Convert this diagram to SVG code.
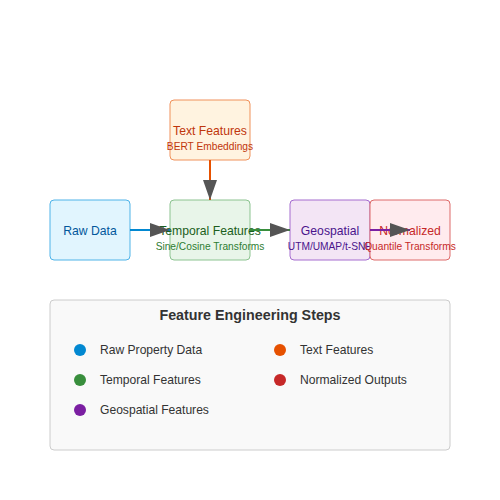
<svg xmlns="http://www.w3.org/2000/svg" width="500" height="500" viewBox="0 0 500 500">
<style>
text{font-family:"Liberation Sans",Arial,sans-serif;}
.t{font-size:12.2px;text-anchor:middle;}
.s{font-size:10.2px;text-anchor:middle;}
.box{stroke-width:1;}
.lg{font-size:12.1px;fill:#333;}
.con{stroke-width:2;fill:none;}
</style>
<defs>
<marker id="arr" markerUnits="userSpaceOnUse" markerWidth="20" markerHeight="14" refX="20" refY="7" orient="auto">
<path d="M0,0 L20,7 L0,14 z" fill="#555"/>
</marker>
</defs>
<rect width="500" height="500" fill="#ffffff"/>
<g id="raw">
<rect class="box" x="50" y="200" width="80" height="60" rx="4" fill="#e1f5fe" stroke="#4fb3e8"/>
<text class="t" x="90" y="235" fill="#01579b">Raw Data</text>
</g>
<g id="text">
<rect class="box" x="170" y="100" width="80" height="60" rx="4" fill="#fff3e0" stroke="#f0915a"/>
<text class="t" x="210" y="135" fill="#bf360c">Text Features</text>
<text class="s" x="210" y="150" fill="#bf360c">BERT Embeddings</text>
</g>
<g id="temporal">
<rect class="box" x="170" y="200" width="80" height="60" rx="4" fill="#e8f5e9" stroke="#8cc390"/>
<text class="t" x="210" y="235" fill="#1b5e20">Temporal Features</text>
<text class="s" x="210" y="250" fill="#2e7d32">Sine/Cosine Transforms</text>
</g>
<g id="geo">
<rect class="box" x="290" y="200" width="80" height="60" rx="4" fill="#f3e5f5" stroke="#a56ccf"/>
<text class="t" x="330" y="235" fill="#4a148c">Geospatial</text>
<text class="s" x="330" y="250" fill="#4a148c">UTM/UMAP/t-SNE</text>
</g>
<g id="norm">
<rect class="box" x="370" y="200" width="80" height="60" rx="4" fill="#ffebee" stroke="#dd6a6a"/>
<text class="t" x="410" y="235" fill="#c62828">Normalized</text>
<text class="s" x="410" y="250" fill="#c62828">Quantile Transforms</text>
</g>
<g id="connectors">
<line class="con" x1="130" y1="230" x2="170" y2="230" stroke="#0288d1" marker-end="url(#arr)"/>
<line class="con" x1="210" y1="160" x2="210" y2="200" stroke="#e65100" marker-end="url(#arr)"/>
<line class="con" x1="250" y1="230" x2="290" y2="230" stroke="#388e3c" marker-end="url(#arr)"/>
<line class="con" x1="370" y1="230" x2="410" y2="230" stroke="#7b1fa2" marker-end="url(#arr)"/>
</g>
<g id="legend">
<rect x="50" y="300" width="400" height="150" rx="4" fill="#f9f9f9" stroke="#cccccc"/>
<text x="250" y="320" text-anchor="middle" font-size="14.3" font-weight="bold" fill="#333">Feature Engineering Steps</text>
<circle cx="80" cy="350" r="6" fill="#0288d1"/>
<text class="lg" x="100" y="354">Raw Property Data</text>
<circle cx="80" cy="380" r="6" fill="#388e3c"/>
<text class="lg" x="100" y="384">Temporal Features</text>
<circle cx="80" cy="410" r="6" fill="#7b1fa2"/>
<text class="lg" x="100" y="414">Geospatial Features</text>
<circle cx="280" cy="350" r="6" fill="#e65100"/>
<text class="lg" x="300" y="354">Text Features</text>
<circle cx="280" cy="380" r="6" fill="#c62828"/>
<text class="lg" x="300" y="384">Normalized Outputs</text>
</g>
</svg>
